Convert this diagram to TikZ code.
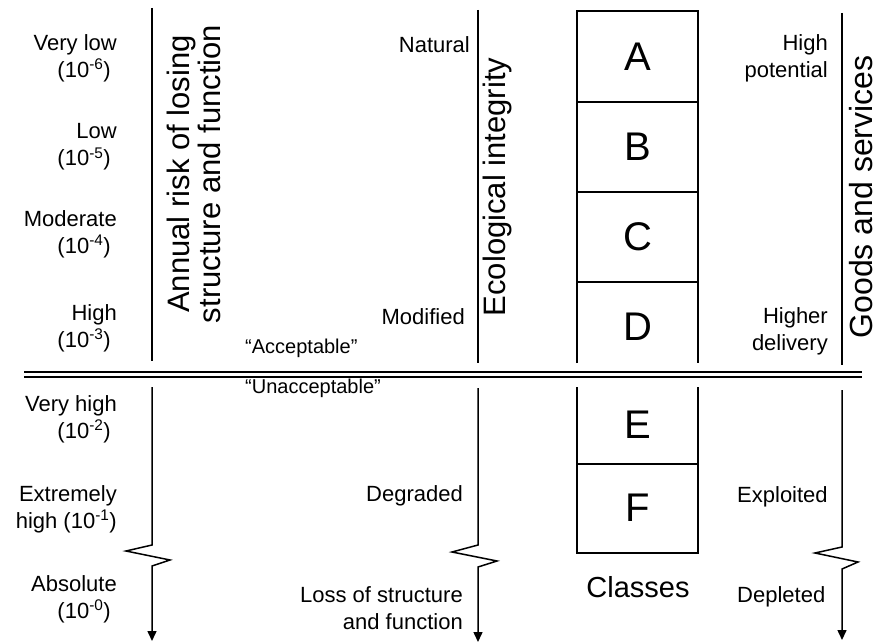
\documentclass[tikz,border=0pt]{standalone}
\usepackage{fontspec}
\setmainfont{Liberation Sans}
\usetikzlibrary{arrows.meta}
\begin{document}
\begin{tikzpicture}[x=1pt,y=-1pt,
  axis/.style={line width=1.5pt},
  arr/.style={line width=1.5pt,line join=miter,-{Triangle[length=10pt,width=9pt]}},
  lab/.style={font=\fontsize{22}{27}\selectfont, inner sep=0pt, align=right, anchor=east},
  labl/.style={font=\fontsize{22}{27}\selectfont, inner sep=0pt, align=left, anchor=west},
  quotelab/.style={font=\fontsize{20}{24}\selectfont, inner sep=0pt, anchor=west},
  titlelab/.style={font=\fontsize{31}{31}\selectfont, inner sep=0pt, rotate=90, align=center},
  cls/.style={font=\fontsize{40}{40}\selectfont, inner sep=0pt},
  boxline/.style={line width=1.2pt},
  dbl/.style={line width=1.6pt}
]
\useasboundingbox (0,0) rectangle (874,644);
\clip (0,0) rectangle (874,644);
\fill[white] (0,0) rectangle (874,644);

% left labels
\node[lab] (vl) at (117,58) {Very low\\(10\textsuperscript{-6})\hspace*{6pt}};
\node[lab] (lo) at (117,147) {Low\\(10\textsuperscript{-5})\hspace*{6pt}};
\node[lab] (mo) at (117,234) {Moderate\\(10\textsuperscript{-4})\hspace*{6pt}};
\node[lab] (hi) at (117,328) {High\\(10\textsuperscript{-3})\hspace*{6pt}};
\node[lab] (vh) at (117,419) {Very high\\(10\textsuperscript{-2})\hspace*{6pt}};
\node[lab] (eh) at (117,509) {Extremely\\high (10\textsuperscript{-1})};
\node[lab] (ab) at (117,599) {Absolute\\(10\textsuperscript{-0})\hspace*{6pt}};

% middle labels
\node[lab] (nat) at (470,45) {Natural};
\node[lab] (mod) at (465,317) {Modified};
\node[lab] (deg) at (463,496) {Degraded};
\node[lab] (loss) at (463,608) {Loss of structure\\and function};

% right labels
\node[lab] (hp) at (828,58) {High\\potential};
\node[lab] (hd) at (828,331) {Higher\\delivery};
\node[labl] (expl) at (737,497) {Exploited};
\node[labl] (depl) at (737,597) {Depleted};

% quotes
\node[quotelab] (acc) at (245,348) {“Acceptable”};
\node[quotelab] (unacc) at (245,388) {“Unacceptable”};

% titles
\node[titlelab] (annual) at (194,174) {Annual risk of losing\\structure and function};
\node[titlelab] (eco) at (497,187) {Ecological integrity};
\node[titlelab, font=\fontsize{32}{32}\selectfont] (goods) at (861,197) {Goods and services};

% classes boxes
\draw[boxline] (577,363) -- (577,11) -- (698,11) -- (698,363);
\draw[boxline] (577,102) -- (698,102);
\draw[boxline] (577,192) -- (698,192);
\draw[boxline] (577,282) -- (698,282);
\draw[boxline] (577,387) -- (577,553) -- (698,553) -- (698,387);
\draw[boxline] (577,464) -- (698,464);
\node[cls] (cA) at (638,57) {A};
\node[cls] (cB) at (638,147) {B};
\node[cls] (cC) at (638,237) {C};
\node[cls] (cD) at (638,327) {D};
\node[cls] (cE) at (638,425) {E};
\node[cls] (cF) at (638,508) {F};
\node[font=\fontsize{29}{29}\selectfont, inner sep=0pt] (classes) at (638,587) {Classes};

% axes
\draw[axis] (152,8) -- (152,361);
\draw[arr] (152,387) -- (152,545) -- (126,551) -- (170,560) -- (152,566) -- (152,641);
\draw[axis] (478,10) -- (478,363);
\draw[arr] (478,388) -- (478,545) -- (452,552) -- (497,561) -- (478,567) -- (478,642);
\draw[axis] (842,13) -- (842,365);
\draw[arr] (842,390) -- (842,547) -- (815,553) -- (858,562) -- (842,569) -- (842,640);

% double separator
\draw[dbl] (24,372) -- (862,372);
\draw[dbl] (24,377) -- (862,377);
\end{tikzpicture}
\end{document}
